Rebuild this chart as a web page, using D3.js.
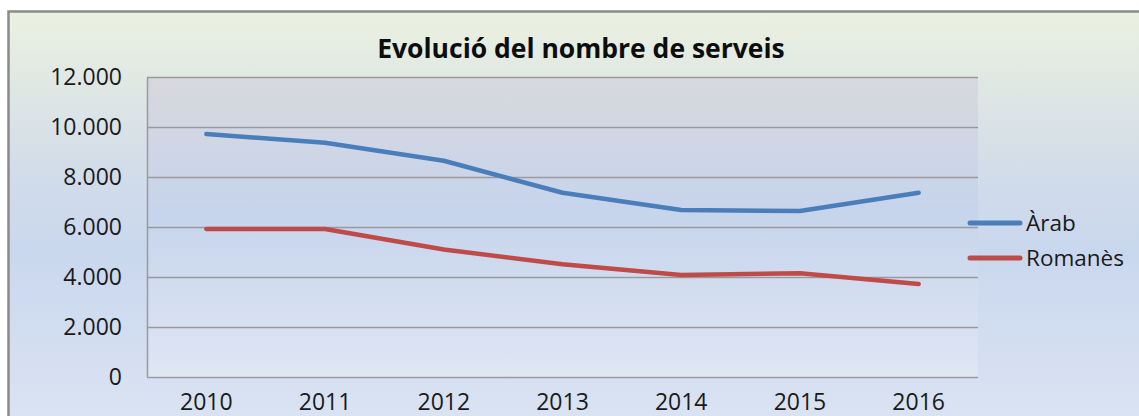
<!DOCTYPE html>
<html>
<head>
<meta charset="utf-8">
<script src="https://cdn.jsdelivr.net/npm/d3@7"></script>
<style>
  html, body { margin: 0; padding: 0; background: #fff; }
  svg { display: block; }
  text { font-family: "Open Sans", "Liberation Sans", sans-serif; fill: #1a1a1a; }
</style>
</head>
<body>
<div id="chart"></div>
<script>
var years = ['2010', '2011', '2012', '2013', '2014', '2015', '2016'];
var arab = [9720, 9370, 8650, 7370, 6680, 6640, 7370];
var romanes = [5920, 5920, 5100, 4510, 4080, 4150, 3720];
var seriesNames = ['Àrab', 'Romanès'];
var yTicks = [0, 2000, 4000, 6000, 8000, 10000, 12000];
var title = 'Evolució del nombre de serveis';

var W = 1139, H = 416;
var margin = {top: 77, right: 161, bottom: 39, left: 147};
var width = W - margin.left - margin.right;
var height = H - margin.top - margin.bottom;

var svg = d3.select('#chart').append('svg')
    .attr('width', W)
    .attr('height', H);

var defs = svg.append('defs');
var outerGrad = defs.append('linearGradient')
    .attr('id', 'outerGrad')
    .attr('x1', 0).attr('y1', 0).attr('x2', 0).attr('y2', 1);
outerGrad.append('stop').attr('offset', '0%').attr('stop-color', '#ebf1df');
outerGrad.append('stop').attr('offset', '35%').attr('stop-color', '#d3dde9');
outerGrad.append('stop').attr('offset', '55%').attr('stop-color', '#c9d7ee');
outerGrad.append('stop').attr('offset', '100%').attr('stop-color', '#dde5f3');

var plotGrad = defs.append('linearGradient')
    .attr('id', 'plotGrad')
    .attr('x1', 0).attr('y1', 0).attr('x2', 0).attr('y2', 1);
plotGrad.append('stop').attr('offset', '0%').attr('stop-color', '#d8d8dd');
plotGrad.append('stop').attr('offset', '45%').attr('stop-color', '#c6d4ec');
plotGrad.append('stop').attr('offset', '100%').attr('stop-color', '#dfe6f4');

// chart area (continues past the right and bottom edge)
svg.append('rect')
    .attr('x', 8.5).attr('y', 11.5)
    .attr('width', W + 20).attr('height', H + 20)
    .attr('fill', 'url(#outerGrad)')
    .attr('stroke', '#8a8a8a')
    .attr('stroke-width', 2.5);

var g = svg.append('g')
    .attr('transform', 'translate(' + margin.left + ',' + margin.top + ')');

var x = d3.scaleBand()
    .domain(years)
    .range([0, width]);

var y = d3.scaleLinear()
    .domain([0, 12000])
    .range([height, 0]);

g.append('rect')
    .attr('width', width)
    .attr('height', height)
    .attr('fill', 'url(#plotGrad)');

// gridlines
g.append('g')
    .selectAll('line')
    .data(yTicks)
    .enter()
    .append('line')
    .attr('x1', 0)
    .attr('x2', width)
    .attr('y1', function(d) { return Math.round(y(d)) + 0.5; })
    .attr('y2', function(d) { return Math.round(y(d)) + 0.5; })
    .attr('stroke', '#9a9a9a')
    .attr('stroke-width', 1.5);

var fmt = function(d) {
    return d3.format(',')(d).replace(/,/g, '.');
};

var yAxis = d3.axisLeft(y)
    .tickValues(yTicks)
    .tickFormat(fmt)
    .tickSize(0)
    .tickPadding(25);

var ya = g.append('g').call(yAxis);
ya.select('.domain').attr('stroke', '#9a9a9a').attr('stroke-width', 1.5);
ya.selectAll('text')
    .attr('font-size', 23)
    .attr('font-family', '"Open Sans", sans-serif')
    .attr('fill', '#1a1a1a');

// x labels sit at the very bottom edge, nudged up so they stay readable
var xAxis = d3.axisBottom(x)
    .tickSize(0)
    .tickPadding(17);

var xa = g.append('g')
    .attr('transform', 'translate(0,' + height + ')')
    .call(xAxis);
xa.select('.domain').remove();
xa.selectAll('text')
    .attr('font-size', 23)
    .attr('font-family', '"Open Sans", sans-serif')
    .attr('fill', '#1a1a1a');

var series = [
    {name: seriesNames[0], values: arab, color: '#4a7ebb'},
    {name: seriesNames[1], values: romanes, color: '#be4b48'}
];

var line = d3.line()
    .x(function(d, i) { return x(years[i]) + x.bandwidth() / 2; })
    .y(function(d) { return y(d); });

g.selectAll('.series')
    .data(series)
    .enter()
    .append('path')
    .attr('class', 'series')
    .attr('d', function(d) { return line(d.values); })
    .attr('fill', 'none')
    .attr('stroke', function(d) { return d.color; })
    .attr('stroke-width', 4.5)
    .attr('stroke-linecap', 'round')
    .attr('stroke-linejoin', 'round');

// title
svg.append('text')
    .attr('x', 581)
    .attr('y', 58)
    .attr('text-anchor', 'middle')
    .attr('font-size', 26.5)
    .attr('font-weight', 'bold')
    .style('fill', '#0d0d0d')
    .text(title);

// legend
var legend = svg.append('g')
    .selectAll('g')
    .data(series)
    .enter()
    .append('g')
    .attr('transform', function(d, i) { return 'translate(968,' + (223 + i * 35) + ')'; });

legend.append('line')
    .attr('x1', 2).attr('x2', 52)
    .attr('stroke', function(d) { return d.color; })
    .attr('stroke-width', 5)
    .attr('stroke-linecap', 'round');

legend.append('text')
    .attr('x', 58)
    .attr('y', 8)
    .attr('font-size', 22.5)
    .text(function(d) { return d.name; });
</script>
</body>
</html>
